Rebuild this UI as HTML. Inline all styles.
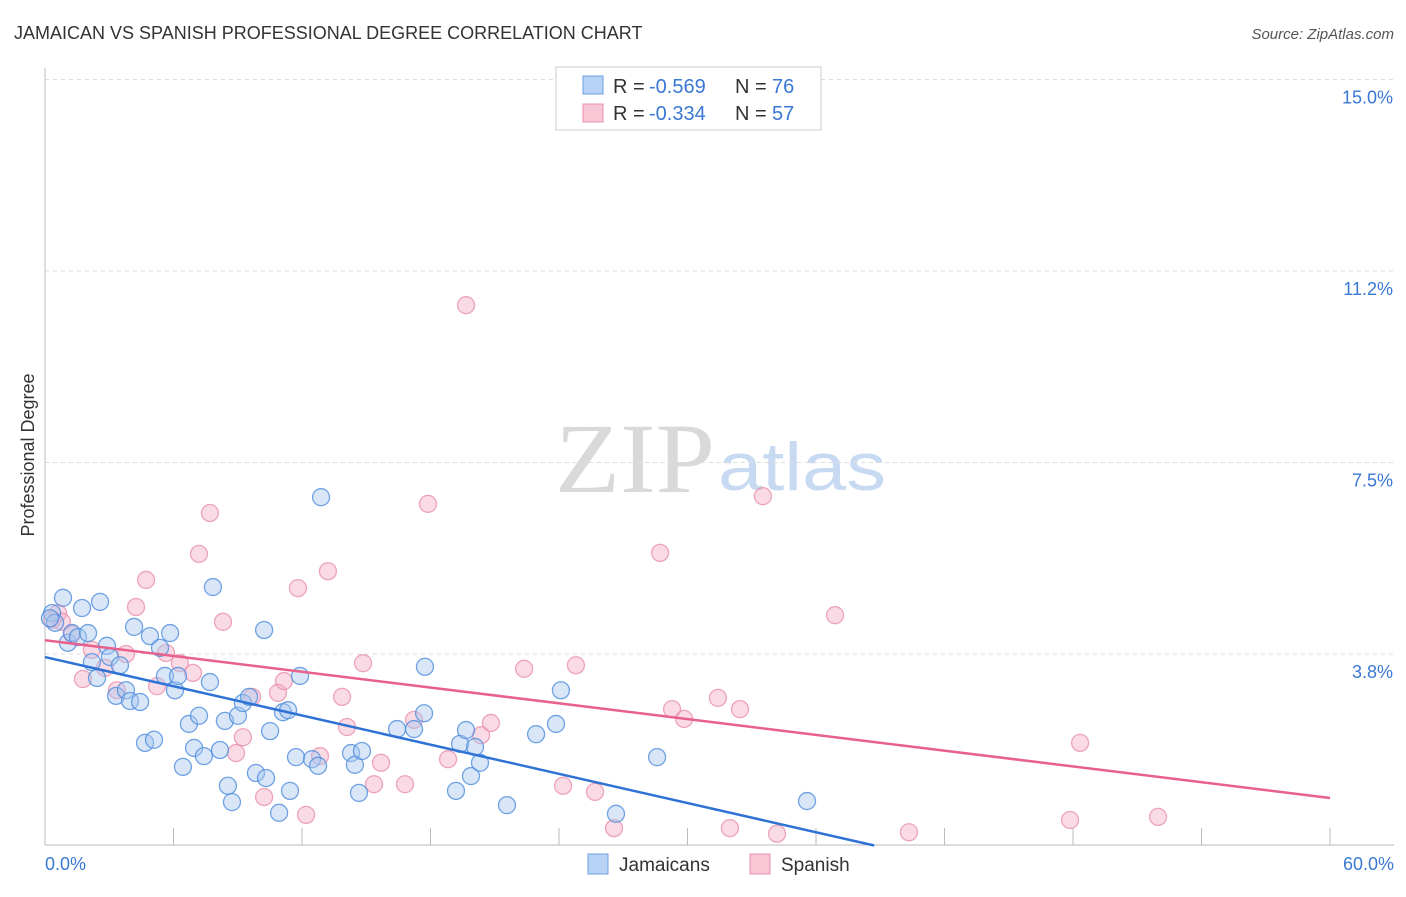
<!DOCTYPE html>
<html><head><meta charset="utf-8"><style>
body{margin:0;background:#fff;font-family:"Liberation Sans",sans-serif;}
</style></head><body>
<svg id="chart" width="1406" height="892" font-family="Liberation Sans, sans-serif">
<text x="14" y="39" font-size="18" fill="#333">JAMAICAN VS SPANISH PROFESSIONAL DEGREE CORRELATION CHART</text>
<text x="1394" y="39" font-size="15" fill="#555" font-style="italic" text-anchor="end">Source: ZipAtlas.com</text>
<text x="34" y="455" font-size="18" fill="#333" transform="rotate(-90 34 455)" text-anchor="middle">Professional Degree</text>
<text x="715" y="492" font-size="100" fill="#d9d9d9" style="font-family:'Liberation Serif',serif" text-anchor="end" textLength="160" lengthAdjust="spacingAndGlyphs">ZIP</text>
<text x="718" y="490" font-size="68" fill="#c8daf2" textLength="168" lengthAdjust="spacingAndGlyphs">atlas</text>
<g id="grid"></g><g id="pts"></g><g id="lines"></g>
<g>
<rect x="556" y="67" width="265" height="63" fill="#fff" stroke="#ccc"/>
<rect x="583" y="76" width="20" height="18" fill="#b8d3f5" stroke="#6a9fe0"/>
<text x="613" y="93" font-size="20" fill="#333">R =</text>
<text x="649" y="93" font-size="20" fill="#3a78d4">-0.569</text>
<text x="735" y="93" font-size="20" fill="#333">N =</text>
<text x="772" y="93" font-size="20" fill="#3a78d4">76</text>
<rect x="583" y="104" width="20" height="18" fill="#f9c6d6" stroke="#e890ad"/>
<text x="613" y="120" font-size="20" fill="#333">R =</text>
<text x="649" y="120" font-size="20" fill="#3a78d4">-0.334</text>
<text x="735" y="120" font-size="20" fill="#333">N =</text>
<text x="772" y="120" font-size="20" fill="#3a78d4">57</text>
</g>
<g>
<rect x="588" y="854" width="20" height="20" fill="#b8d3f5" stroke="#6a9fe0"/>
<text x="619" y="871" font-size="19" fill="#333">Jamaicans</text>
<rect x="750" y="854" width="20" height="20" fill="#f9c6d6" stroke="#e890ad"/>
<text x="781" y="871" font-size="19" fill="#333">Spanish</text>
</g>
</svg>
<script>
const yTicks=[3.8,7.5,11.2,15.0];
const yTickVals=[3.75,7.5,11.25,15];
const xTickLabels=["0.0%","60.0%"];
const bluePx=[[52,613],[55,623],[63,598],[68,643],[72,633],[78,637],[82,608],[88,633],[92,662],[97,678],[100,602],[107,646],[110,657],[116,696],[120,665],[126,690],[130,701],[134,627],[140,702],[145,743],[150,636],[154,740],[160,648],[165,676],[170,633],[175,690],[178,676],[183,767],[189,724],[194,748],[199,716],[204,756],[210,682],[213,587],[220,750],[225,721],[228,786],[232,802],[238,716],[243,703],[249,697],[256,773],[264,630],[266,778],[270,731],[279,813],[283,712],[288,710],[290,791],[296,757],[300,676],[312,759],[318,766],[321,497],[351,753],[355,765],[359,793],[362,751],[397,729],[414,729],[424,713],[425,667],[456,791],[460,744],[466,730],[471,776],[475,747],[480,763],[507,805],[536,734],[556,724],[561,690],[616,814],[657,757],[807,801],[50,618]];
const pinkPx=[[52,620],[58,613],[62,622],[72,634],[83,679],[92,650],[105,668],[117,690],[126,654],[136,607],[146,580],[157,686],[166,653],[180,663],[193,673],[199,554],[210,513],[223,622],[236,753],[243,737],[252,697],[264,797],[278,693],[284,681],[298,588],[306,815],[320,756],[328,571],[342,697],[347,727],[363,663],[374,784],[381,763],[405,784],[414,720],[428,504],[448,759],[466,305],[481,735],[491,723],[524,669],[563,786],[576,665],[595,792],[614,828],[660,553],[672,709],[684,719],[718,698],[730,828],[740,709],[763,496],[777,834],[835,615],[909,832],[1070,820],[1080,743],[1158,817]];
const toData=p=>[+((p[0]-45)/21.417).toFixed(2),+((845.5-p[1])/51.07).toFixed(2)];
const blueData=bluePx.map(toData);
const pinkData=pinkPx.map(toData);
const blueFit=[3.69,-0.0953];
const pinkFit=[4.02,-0.0515];
const X=v=>45+v*21.417, Y=v=>845.5-v*51.07;
const NS="http://www.w3.org/2000/svg";
function mk(t,a,parent){const e=document.createElementNS(NS,t);for(const k in a)e.setAttribute(k,a[k]);parent.appendChild(e);return e;}
const g=document.getElementById('grid');
yTickVals.forEach((v,i)=>{
 const l=mk('line',{x1:45,x2:1394,y1:Y(v),y2:Y(v),stroke:'#ddd','stroke-dasharray':'4,4'},g);
 
 
 const t=mk('text',{x:1393,y:Y(v)+24,'font-size':18,fill:'#3a78d4','text-anchor':'end'},g);
 t.textContent=yTicks[i].toFixed(1)+'%';
 
 
});
const ax=mk('line',{x1:45,x2:45,y1:68,y2:845,stroke:'#bbb'},g);


const bx=mk('line',{x1:45,x2:1394,y1:845,y2:845,stroke:'#bbb'},g);


for(let i=1;i<=10;i++){const tk=mk('line',{x1:X(i*6),x2:X(i*6),y1:828,y2:845,stroke:'#bbb'},g);
 
 }
[[0,45,'start'],[1,1394,'end']].forEach(([i,x,a])=>{const t=mk('text',{x:x,y:870,'font-size':18,fill:'#3a78d4','text-anchor':a},g);t.textContent=xTickLabels[i];
 
 });
const pg=document.getElementById('pts');
function plot(data,fill,stroke,name){data.forEach(d=>{const c=mk('circle',{cx:X(d[0]),cy:Y(d[1]),r:8.5,fill:fill,'fill-opacity':0.45,stroke:stroke,'stroke-width':1.3,'stroke-opacity':0.8},pg);
 
 });}
plot(pinkData,'#f5b0c6','#e890ad','spanish-point');
plot(blueData,'#a8c8f0','#4f8ddc','jamaican-point');
const lg=document.getElementById('lines');
const bxEnd=-blueFit[0]/blueFit[1];
const bl=mk('line',{x1:X(0),y1:Y(blueFit[0]),x2:X(bxEnd),y2:Y(0),stroke:'#2f72d6','stroke-width':2.5},lg);


const pl=mk('line',{x1:X(0),y1:Y(pinkFit[0]),x2:X(60),y2:Y(pinkFit[0]+pinkFit[1]*60),stroke:'#e8608c','stroke-width':2.5},lg);


</script>
</body></html>
